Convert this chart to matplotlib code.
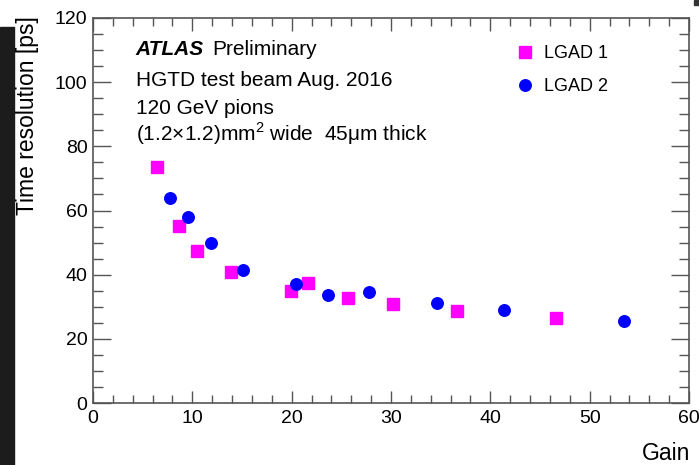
import matplotlib.pyplot as plt
from matplotlib.patches import Rectangle
from matplotlib.ticker import MultipleLocator

plt.rcParams['font.family'] = ['Liberation Sans', 'DejaVu Sans']
plt.rcParams['mathtext.fontset'] = 'custom'
plt.rcParams['mathtext.rm'] = 'Liberation Sans'

# LGAD 1 (magenta squares)
gain1 = [6.4, 8.7, 10.5, 13.9, 19.9, 21.6, 25.7, 30.2, 36.6, 46.6]
res1 = [73.6, 55.3, 47.5, 40.7, 35.0, 37.3, 32.6, 30.9, 28.7, 26.6]

# LGAD 2 (blue circles)
gain2 = [7.8, 9.6, 11.9, 15.1, 20.4, 23.7, 27.8, 34.6, 41.4, 53.5]
res2 = [64.0, 57.9, 50.0, 41.4, 37.1, 33.6, 34.5, 31.1, 29.1, 25.6]

info_lines = ["HGTD test beam Aug. 2016", "120 GeV pions",
              r"(1.2×1.2)mm$^{2}$ wide  45μm thick"]
info_y = [0.823, 0.751, 0.681]

fig = plt.figure(figsize=(6.99, 4.65), dpi=100)
ax = fig.add_axes([0.133, 0.1333, 0.8527, 0.828])

ax.plot(gain1, res1, ls='none', marker='s', ms=8.3, color='#ff00ff', label='LGAD 1')
ax.plot(gain2, res2, ls='none', marker='o', ms=8.3, color='#0000ff', label='LGAD 2')

ax.set_xlim(0, 60)
ax.set_ylim(0, 120)
ax.xaxis.set_major_locator(MultipleLocator(10))
ax.xaxis.set_minor_locator(MultipleLocator(2))
ax.yaxis.set_major_locator(MultipleLocator(20))
ax.yaxis.set_minor_locator(MultipleLocator(5))

edge = '#555555'
for s in ax.spines.values():
    s.set_color(edge)
    s.set_linewidth(1.2)
ax.tick_params(which='both', direction='in', top=True, right=True,
               color=edge, width=1.0, labelsize=14, labelcolor='black')
ax.tick_params(axis='y', which='major', length=13, pad=4)
ax.tick_params(axis='y', which='minor', length=7)
ax.tick_params(axis='x', which='major', length=9, pad=5)
ax.tick_params(axis='x', which='minor', length=6)

atlas = ax.text(0.072, 0.904, "ATLAS", transform=ax.transAxes, fontsize=15,
                fontweight='bold', fontstyle='italic', va='baseline')
ax.annotate("Preliminary", xy=(1, 0), xycoords=atlas, xytext=(6, 0),
            textcoords='offset points', fontsize=15, va='bottom')
for line, yy in zip(info_lines, info_y):
    ax.text(0.072, yy, line, transform=ax.transAxes, fontsize=15,
            va='baseline')

ax.legend(loc='upper left', bbox_to_anchor=(0.71, 0.93), frameon=False,
          fontsize=13, handlelength=1.0, handletextpad=0.55,
          labelspacing=0.9, borderpad=0, borderaxespad=0)

fig.text(0.04, 0.966, "Time resolution [ps]", rotation=90, ha='center',
         va='top', fontsize=16.5)
fig.text(0.987, 1 - 460 / 465, "Gain", ha='right', va='baseline', fontsize=16.5)

# dark border strips from the screenshot
fig.patches.append(Rectangle((0, 0), 14 / 699, 1 - 27 / 465,
                             transform=fig.transFigure, color='#1c1c1c'))
fig.patches.append(Rectangle((694 / 699, 1 - 5 / 465), 5 / 699, 5 / 465,
                             transform=fig.transFigure, color='#333333'))

fig.savefig('out.png', dpi=100)
